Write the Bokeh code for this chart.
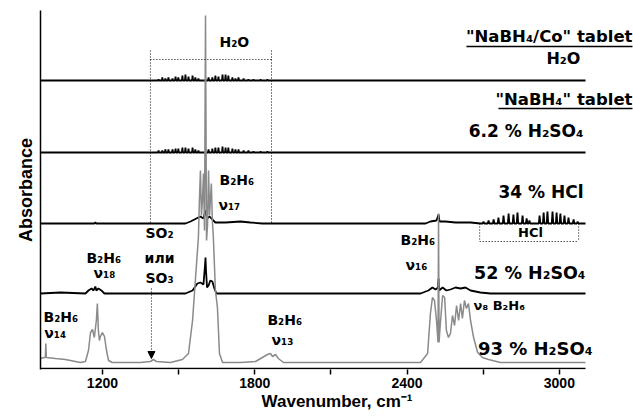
from bokeh.plotting import figure
from bokeh.models import FixedTicker, Label, Arrow, NormalHead, Range1d
from bokeh.embed import file_html
from bokeh.resources import INLINE

# ---------------- data (wavenumber, cm-1 / absorbance, a.u.) ----------------
# 93 % H2SO4 (grey)
grey_wn = [956, 971, 975, 977, 979, 1015, 1054, 1113, 1133, 1145, 1153, 1161, 1168, 1176, 1180, 1184,
           1188, 1192, 1200, 1208, 1216, 1224, 1239, 1350, 1389, 1401, 1413, 1468, 1515, 1539, 1555,
           1566, 1578, 1582, 1586, 1590, 1594, 1598, 1602, 1606, 1610, 1614, 1618, 1622, 1625, 1629,
           1633, 1637, 1645, 1653, 1661, 1673, 1744, 1803, 1830, 1850, 1862, 1870, 1882, 1893, 1913,
           1980, 2177, 2374, 2453, 2481, 2492, 2500, 2508, 2516, 2522, 2524, 2526, 2532, 2540, 2548,
           2555, 2563, 2571, 2579, 2587, 2595, 2603, 2611, 2618, 2626, 2634, 2642, 2650, 2662, 2678,
           2697, 2721, 2768, 3103]
grey_abs = [0.04, 0.05, 0.05, 0.19, 0.05, 0.04, 0.03, 0.00, 0.01, 0.12, 0.30, 0.33, 0.25, 0.42, 0.59, 0.32,
            0.22, 0.26, 0.30, 0.26, 0.12, 0.02, 0.00, 0.00, 0.01, 0.03, 0.01, 0.00, 0.03, 0.09, 0.42,
            0.82, 1.25, 1.62, 1.92, 1.47, 1.62, 1.89, 1.32, 3.47, 1.22, 1.37, 1.92, 1.47, 1.62, 1.79,
            1.42, 1.25, 0.72, 0.55, 0.09, 0.00, 0.00, 0.01, 0.05, 0.08, 0.09, 0.06, 0.08, 0.04, 0.00,
            0.00, 0.00, 0.00, 0.00, 0.09, 0.49, 0.65, 0.62, 0.42, 0.20, 1.49, 0.20, 0.42, 0.67, 0.65,
            0.32, 0.25, 0.29, 0.47, 0.37, 0.57, 0.42, 0.59, 0.44, 0.62, 0.54, 0.59, 0.42, 0.25, 0.10,
            0.05, 0.03, 0.00, 0.00]

# 52 % H2SO4
s52_wn = [956, 1035, 1133, 1145, 1157, 1165, 1172, 1176, 1184, 1196, 1208, 1527, 1555, 1574, 1586, 1598,
          1604, 1606, 1608, 1612, 1618, 1625, 1633, 1641, 1649, 2453, 2484, 2500, 2512, 2522, 2524, 2526,
          2540, 2555, 2571, 2591, 2611, 2630, 2650, 2689, 2729, 3103]
s52_abs = [0, 0.01, 0, 0.03, 0.05, 0.03, 0.07, 0.03, 0.05, 0.03, 0, 0, 0.03, 0.10, 0.11, 0.09,
           0.28, 0.36, 0.23, 0.06, 0.08, 0.13, 0.12, 0.05, 0, 0, 0.03, 0.06, 0.04, 0.06, 0.15, 0.03,
           0.06, 0.03, 0.04, 0.06, 0.05, 0.06, 0.03, 0.01, 0, 0]

# 34 % HCl (continuum) + HCl rotational lines
s34_wn = [956, 1168, 1172, 1176, 1527, 1547, 1570, 1586, 1598, 1606, 1612, 1622, 1633, 1645, 1685, 1744,
          1783, 1830, 2473, 2492, 2516, 2524, 2528, 2551, 2591, 2650, 2689, 3103]
s34_abs = [0, 0, 0.01, 0, 0, 0.02, 0.05, 0.07, 0.05, 0.13, 0.05, 0.07, 0.04, 0.01, 0.01, 0.02,
           0.01, 0, 0, 0.02, 0.03, 0.09, 0.02, 0.02, 0.01, 0.01, 0, 0]
hcl_wn = [2701, 2721, 2741, 2760, 2780, 2800, 2819, 2835, 2855, 2871, 2882,
          2922, 2938, 2953, 2973, 2989, 3004, 3020, 3036, 3056, 3072]
hcl_abs = [0.02, 0.03, 0.04, 0.06, 0.08, 0.10, 0.09, 0.11, 0.08, 0.05, 0.03,
           0.08, 0.11, 0.12, 0.12, 0.11, 0.10, 0.08, 0.06, 0.04, 0.02]

# water vapour lines on the two tablet spectra
h2o_wn = [1421, 1436, 1448, 1460, 1476, 1488, 1499, 1515, 1527, 1539, 1555, 1566, 1578, 1618,
          1633, 1645, 1657, 1673, 1685, 1696, 1712, 1724, 1736, 1756, 1775, 1795, 1823, 1850]
h2o_abs_co = [0.01, 0.03, 0.02, 0.03, 0.02, 0.04, 0.03, 0.05, 0.06, 0.04, 0.05, 0.03, 0.02, 0.03,
              0.03, 0.05, 0.04, 0.06, 0.06, 0.05, 0.03, 0.02, 0.03, 0.02, 0.01, 0.01, 0.01, 0.01]
h2o_abs_na = [0.02, 0.02, 0.03, 0.03, 0.03, 0.04, 0.04, 0.05, 0.05, 0.04, 0.05, 0.03, 0.02, 0.03,
              0.04, 0.05, 0.05, 0.06, 0.05, 0.05, 0.04, 0.03, 0.03, 0.02, 0.02, 0.01, 0.01, 0.01]

# vertical offsets of the stacked spectra
offsets = {"93": 0.06, "52": 0.75, "34": 1.45, "na": 2.16, "co": 2.88}

major_ticks = [1200, 1800, 2400, 3000]
minor_ticks = [1500, 2100, 2700]


def with_lines(cont_wn, cont_abs, line_wn, line_h, hw):
    pts = list(zip(cont_wn, cont_abs))
    for w, h in zip(line_wn, line_h):
        pts += [(w - hw, 0.0), (w, h), (w + hw, 0.0)]
    pts.sort()
    return [a for a, _ in pts], [b for _, b in pts]


def shift(vals, off):
    return [v + off for v in vals]


FONT = "Liberation Sans"
LFONT = "DejaVu Sans"

p = figure(width=633, height=418, x_range=Range1d(956, 3292), y_range=Range1d(-0.01, 3.58),
           output_backend="svg", toolbar_location=None,
           min_border_left=40, min_border_right=0, min_border_top=10, min_border_bottom=49)
p.grid.visible = False
p.outline_line_color = None
p.background_fill_color = "white"
p.border_fill_color = "white"

xa = p.xaxis[0]
xa.ticker = FixedTicker(ticks=major_ticks, minor_ticks=minor_ticks)
xa.axis_line_color = None
xa.major_tick_in = 0
xa.major_tick_out = 5
xa.minor_tick_in = 0
xa.minor_tick_out = 5
xa.major_tick_line_width = 1.5
xa.minor_tick_line_width = 1.5
xa.major_label_text_font = FONT
xa.major_label_text_font_style = "bold"
xa.major_label_text_font_size = "14px"
xa.major_label_text_color = "black"
xa.major_label_standoff = 3
xa.axis_label = "Wavenumber, cm\u207b\u00b9"
xa.axis_label_text_font = FONT
xa.axis_label_text_font_style = "bold"
xa.axis_label_text_font_size = "17px"
xa.axis_label_text_color = "black"
xa.axis_label_standoff = 1

ya = p.yaxis[0]
ya.ticker = FixedTicker(ticks=[])
ya.axis_line_width = 1.5
ya.axis_line_color = "black"
ya.axis_label = "Absorbance"
ya.axis_label_text_font = FONT
ya.axis_label_text_font_style = "bold"
ya.axis_label_text_font_size = "18px"
ya.axis_label_text_color = "black"
ya.axis_label_standoff = 5
ya.major_label_text_font_size = "0px"

# bottom axis line, only as far as the data go
p.segment(x0=[grey_wn[0]], y0=[0], x1=[grey_wn[-1]], y1=[0], line_color="black", line_width=1.5)

# stacked spectra
x_co, y_co = with_lines([grey_wn[0], grey_wn[-1]], [0, 0], h2o_wn, h2o_abs_co, 2)
x_na, y_na = with_lines([grey_wn[0], grey_wn[-1]], [0, 0], h2o_wn, h2o_abs_na, 2)
x_34, y_34 = with_lines(s34_wn, s34_abs, hcl_wn, hcl_abs, 3)

p.line(x_co, shift(y_co, offsets["co"]), line_color="black", line_width=1.8)
p.line(x_na, shift(y_na, offsets["na"]), line_color="black", line_width=1.8)
p.line(x_34, shift(y_34, offsets["34"]), line_color="black", line_width=1.8)
p.line(s52_wn, shift(s52_abs, offsets["52"]), line_color="black", line_width=1.8)
p.line(grey_wn, shift(grey_abs, offsets["93"]), line_color="#8a8a8a", line_width=1.5)

# dotted boxes
p.multi_line(xs=[[1389, 1389], [1389, 1866], [1866, 1866]],
             ys=[[3.18, 1.46], [3.09, 3.09], [3.18, 1.46]],
             line_color="black", line_width=1, line_dash="1 2")
p.multi_line(xs=[[2686, 2686], [2686, 3076], [3076, 3076]],
             ys=[[1.45, 1.27], [1.27, 1.27], [1.45, 1.27]],
             line_color="black", line_width=1, line_dash="1 2")

# SO2 / SO3 arrow
p.add_layout(Arrow(x_start=1393, y_start=0.80, x_end=1393, y_end=0.10,
                   line_color="black", line_width=1, line_dash="1 2",
                   end=NormalHead(size=7, fill_color="black", line_color="black")))

# underlines of the tablet labels
p.segment(x0=[2634, 2760], y0=[3.22, 2.60], x1=[3288, 3288], y1=[3.22, 2.60],
          line_color="black", line_width=1.5)

DY = 0.06


def lab(x, y, text, size=14, align="left"):
    p.add_layout(Label(x=x, y=y + DY, text=text, text_font=LFONT, text_font_style="bold",
                       text_font_size=f"{size}px", text_color="black",
                       text_align=align, text_baseline="alphabetic"))


lab(3288, 3.26, "\"NaBH\u2084/Co\" tablet", 16.5, "right")
lab(3016, 3.04, "H\u2082O", 16, "center")
lab(3288, 2.63, "\"NaBH\u2084\" tablet", 16.5, "right")
lab(3095, 2.32, "6.2 % H\u2082SO\u2084", 17, "right")
lab(3095, 1.71, "34 % HCl", 17, "right")
lab(2886, 1.30, "HCl", 13, "center")
lab(3103, 0.90, "52 % H\u2082SO\u2084", 17.5, "right")
lab(3131, 0.14, "93 % H\u2082SO\u2084", 18, "right")
lab(2662, 0.57, "\u03bd\u2088 B\u2082H\u2086", 13)

lab(1661, 3.21, "H\u2082O", 14)
lab(1661, 1.83, "B\u2082H\u2086", 14)
lab(1657, 1.58, "\u03bd\u2081\u2087", 14)
lab(1425, 1.30, "SO\u2082", 14, "center")
lab(1425, 1.05, "или", 14, "center")
lab(1425, 0.85, "SO\u2083", 14, "center")
lab(1137, 1.05, "B\u2082H\u2086", 14)
lab(1165, 0.90, "\u03bd\u2081\u2088", 14)
lab(968, 0.46, "B\u2082H\u2086", 14)
lab(971, 0.30, "\u03bd\u2081\u2084", 14)
lab(1850, 0.43, "B\u2082H\u2086", 14)
lab(1866, 0.23, "\u03bd\u2081\u2083", 14)
lab(2374, 1.23, "B\u2082H\u2086", 14)
lab(2394, 0.98, "\u03bd\u2081\u2086", 14)

open("out.html", "w").write(file_html(p, INLINE))
